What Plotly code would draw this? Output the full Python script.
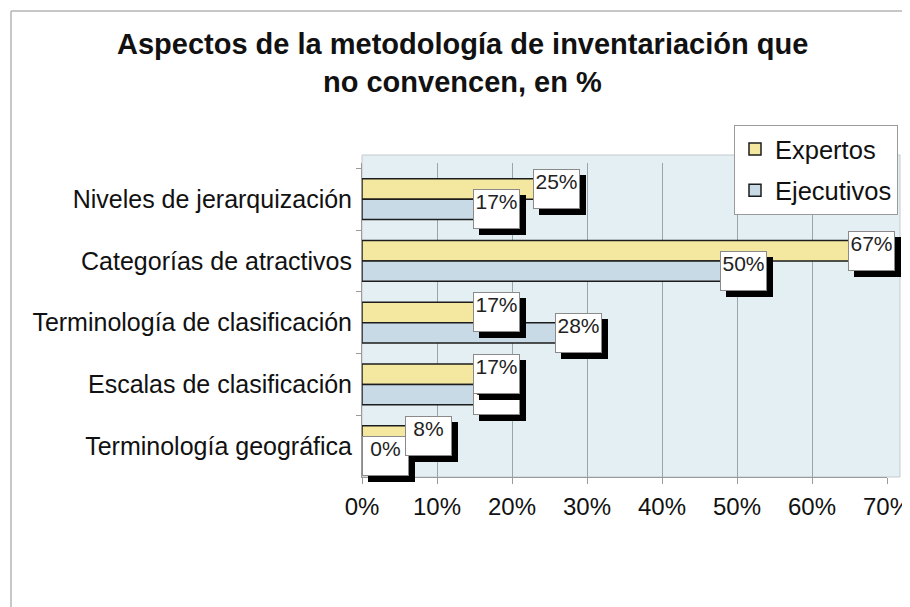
import plotly.graph_objects as go

# ---- data ----
categories = ["Niveles de jerarquización", "Categorías de atractivos",
              "Terminología de clasificación", "Escalas de clasificación",
              "Terminología geográfica"]
expertos = [25, 67, 17, 17, 8]
ejecutivos = [17, 50, 28, 17, 0]
series_names = ["Expertos", "Ejecutivos"]
x_ticks = [0, 10, 20, 30, 40, 50, 60, 70]
x_ticklabels = ["0%", "10%", "20%", "30%", "40%", "50%", "60%", "70%"]
title_lines = ["Aspectos de la metodología de inventariación que",
               "no convencen, en %"]

# ---- layout geometry (page pixels; the page body has an 8px margin) ----
OFF = 8
W, H = 910 - OFF, 607 - OFF
PL, PR, PT, PB = 362, 887, 163, 477          # plot area, page pixels
XMAX = 70
FONT = "Liberation Sans, Arial, sans-serif"
BARGAP = 0.34


def px_x(p):
    return (p - PL) / (PR - PL)


def px_y(p):
    return (PB - p) / (PB - PT)


fig = go.Figure()
colors = ["#f4e8a0", "#c8dae6"]
for i, (name, vals) in enumerate(zip(series_names, [expertos, ejecutivos])):
    fig.add_trace(go.Bar(
        y=categories, x=vals, name=name, orientation="h",
        marker=dict(color=colors[i], line=dict(color="#1c1c1c", width=1.5)),
        legendgroup=name,
    ))

# ---- data labels: white boxes with black drop shadow ----
half = (1 - BARGAP) / 4   # offset of each bar centre from category centre
BOX_W, BOX_H, SH = 45, 38, 6
ppu = (PR - PL) / XMAX
annotations = []
for idx in range(len(categories)):
    # Ejecutivos first so the Expertos box is drawn on top
    for vals, off in ((ejecutivos, +half), (expertos, -half)):
        v = vals[idx]
        xs = max(-17, -v * ppu)
        common = dict(x=v, y=idx + off, xref="x", yref="y",
                      xanchor="left", yanchor="middle", showarrow=False,
                      width=BOX_W, height=BOX_H, borderpad=0, borderwidth=1)
        annotations.append(dict(common, text=" ", bgcolor="#000000",
                                bordercolor="#000000",
                                xshift=xs + SH, yshift=-SH))
        annotations.append(dict(common, text=f"{v}%", bgcolor="#ffffff",
                                bordercolor="#8a8a8a", xshift=xs,
                                align="center", valign="top",
                                font=dict(family=FONT, size=21, color="#222")))

# ---- title (two lines) ----
for line, py in zip(title_lines, (44, 82)):
    annotations.append(dict(text=f"<b>{line}</b>", x=px_x(462), y=px_y(py),
                            xref="paper", yref="paper", showarrow=False,
                            xanchor="center", yanchor="middle",
                            font=dict(family=FONT, size=29, color="#111")))

shapes = [
    # back wall (extends a bit beyond the plot area, as in the 3-D original)
    dict(type="rect", xref="paper", yref="paper", layer="below",
         x0=px_x(362), x1=px_x(900), y0=px_y(477), y1=px_y(155),
         fillcolor="#e3eff2", line=dict(color="#c3cbcd", width=1)),
    # outer chart border (top & left edges visible)
    dict(type="line", xref="paper", yref="paper", x0=px_x(11), x1=px_x(915),
         y0=px_y(11), y1=px_y(11), line=dict(color="#b5b5b5", width=1.5)),
    dict(type="line", xref="paper", yref="paper", x0=px_x(11), x1=px_x(11),
         y0=px_y(11), y1=px_y(612), line=dict(color="#b5b5b5", width=1.5)),
]

fig.update_layout(
    width=W, height=H,
    margin=dict(l=PL - OFF, r=(W + OFF) - PR, t=PT - OFF, b=(H + OFF) - PB,
                autoexpand=False),
    paper_bgcolor="#ffffff", plot_bgcolor="rgba(0,0,0,0)",
    barmode="group", bargap=BARGAP, bargroupgap=0,
    font=dict(family=FONT, size=24, color="#111"),
    showlegend=True,
    legend=dict(x=px_x(734), y=px_y(125), xanchor="left", yanchor="top",
                xref="paper", yref="paper",
                bgcolor="#ffffff", bordercolor="#9a9a9a", borderwidth=1,
                traceorder="grouped", tracegroupgap=5,
                font=dict(family=FONT, size=25.5, color="#111")),
    annotations=annotations, shapes=shapes,
)
fig.update_xaxes(range=[0, XMAX], tickvals=x_ticks, ticktext=x_ticklabels,
                 showgrid=True, gridcolor="#97a6ab", gridwidth=1,
                 zeroline=False, showline=True, linecolor="#9a9a9a",
                 ticks="outside", ticklen=6, tickcolor="#9a9a9a",
                 ticklabelstandoff=2, ticklabeloverflow="allow",
                 tickfont=dict(family=FONT, size=24, color="#111"))
fig.update_yaxes(autorange="reversed", showgrid=False, zeroline=False,
                 showline=True, linecolor="#9a9a9a",
                 ticks="outside", tickson="boundaries", ticklen=5,
                 tickcolor="#9a9a9a", ticklabelstandoff=4,
                 tickfont=dict(family=FONT, size=25, color="#111"))

fig.write_html("out.html")
